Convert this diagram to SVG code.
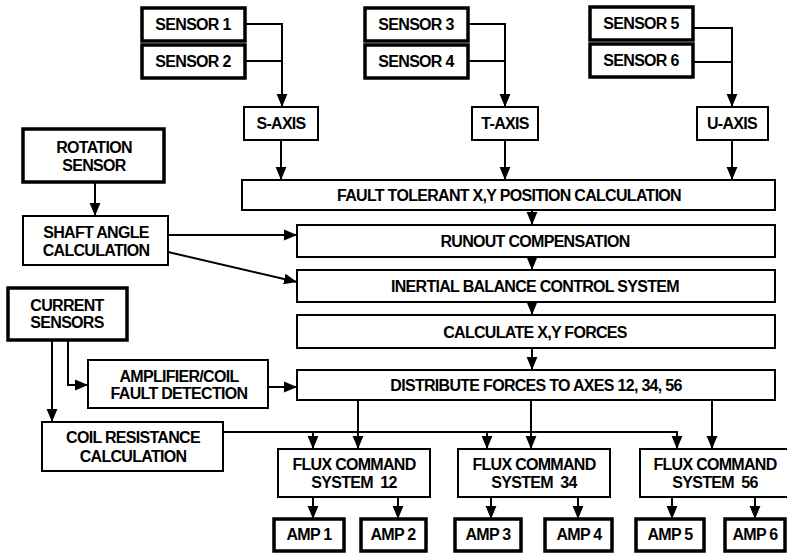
<svg xmlns="http://www.w3.org/2000/svg" width="787" height="553" viewBox="0 0 787 553">
<style>
.b{fill:#fff;stroke:#000;stroke-width:2}
.k{fill:#fff;stroke:#000;stroke-width:3.5}
.t{font-family:"Liberation Sans",Arial,sans-serif;font-weight:bold;font-size:16px;letter-spacing:-0.7px;text-anchor:middle;fill:#000}
.c{fill:none;stroke:#000;stroke-width:2}
.a{marker-end:url(#ah)}
</style>
<defs>
<marker id="ah" viewBox="0 0 12 10" markerWidth="13" markerHeight="12" refX="12" refY="5" orient="auto" markerUnits="userSpaceOnUse">
<path d="M0,0 L12,5 L0,10 z" fill="#000"/>
</marker>
</defs>
<rect width="787" height="553" fill="#fff"/>
<g id="connectors">
<path class="c" d="M245,24 H282 V61"/>
<path class="c a" d="M245,61 H282 V107"/>
<path class="c" d="M468,24 H505 V61"/>
<path class="c a" d="M468,61 H505 V107"/>
<path class="c" d="M693,28 H732 V62"/>
<path class="c a" d="M693,62 H732 V107"/>
<path class="c a" d="M281,140 V180"/>
<path class="c a" d="M505,140 V180"/>
<path class="c a" d="M732,140 V180"/>
<path class="c a" d="M532,210 V225"/>
<path class="c a" d="M532,257 V270"/>
<path class="c a" d="M532,302 V315"/>
<path class="c a" d="M532,348 V370"/>
<path class="c a" d="M95,182 V216"/>
<path class="c a" d="M168,235 H297"/>
<path class="c a" d="M168,252 L297,282"/>
<path class="c a" d="M52,340 V422"/>
<path class="c a" d="M68,340 V385 H88"/>
<path class="c a" d="M268,387 H297"/>
<path class="c a" d="M223,432 H677 V449"/>
<path class="c a" d="M313,432 V449"/>
<path class="c a" d="M487,432 V449"/>
<path class="c a" d="M358,400 V449"/>
<path class="c a" d="M531,400 V449"/>
<path class="c a" d="M712,400 V449"/>
<path class="c a" d="M313,497 V519"/>
<path class="c a" d="M398,497 V519"/>
<path class="c a" d="M491,497 V519"/>
<path class="c a" d="M578,497 V519"/>
<path class="c a" d="M672,497 V519"/>
<path class="c a" d="M755,497 V519"/>
</g>
<g id="sensor1"><rect class="k" x="142" y="8" width="103" height="33"/><text class="t" x="193" y="30">SENSOR 1</text></g>
<g id="sensor2"><rect class="k" x="142" y="45" width="103" height="33"/><text class="t" x="193" y="67">SENSOR 2</text></g>
<g id="sensor3"><rect class="k" x="365" y="8" width="103" height="33"/><text class="t" x="416" y="30">SENSOR 3</text></g>
<g id="sensor4"><rect class="k" x="365" y="45" width="103" height="33"/><text class="t" x="416" y="67">SENSOR 4</text></g>
<g id="sensor5"><rect class="k" x="590" y="7" width="103" height="33"/><text class="t" x="641" y="29">SENSOR 5</text></g>
<g id="sensor6"><rect class="k" x="590" y="44" width="103" height="33"/><text class="t" x="641" y="66">SENSOR 6</text></g>
<g id="s-axis"><rect class="b" x="244" y="107" width="74" height="33"/><text class="t" x="281" y="129">S-AXIS</text></g>
<g id="t-axis"><rect class="b" x="472" y="107" width="66" height="33"/><text class="t" x="505" y="129">T-AXIS</text></g>
<g id="u-axis"><rect class="b" x="697" y="107" width="71" height="33"/><text class="t" x="732" y="129">U-AXIS</text></g>
<g id="fault-tolerant"><rect class="b" x="242" y="180" width="533" height="30"/><text class="t" x="509" y="201">FAULT TOLERANT X,Y POSITION CALCULATION</text></g>
<g id="runout"><rect class="b" x="297" y="225" width="478" height="32"/><text class="t" x="535" y="247">RUNOUT COMPENSATION</text></g>
<g id="inertial"><rect class="b" x="297" y="270" width="478" height="32"/><text class="t" x="535" y="292">INERTIAL BALANCE CONTROL SYSTEM</text></g>
<g id="calc-forces"><rect class="b" x="297" y="315" width="478" height="33"/><text class="t" x="535" y="338">CALCULATE X,Y FORCES</text></g>
<g id="distribute"><rect class="b" x="297" y="370" width="478" height="30"/><text class="t" x="536" y="391">DISTRIBUTE FORCES TO AXES 12, 34, 56</text></g>
<g id="rotation-sensor"><rect class="k" x="23" y="129" width="141" height="53"/><text class="t" x="94" y="153">ROTATION</text><text class="t" x="94" y="171">SENSOR</text></g>
<g id="shaft-angle"><rect class="b" x="23" y="216" width="145" height="49"/><text class="t" x="96" y="238">SHAFT ANGLE</text><text class="t" x="96" y="256">CALCULATION</text></g>
<g id="current-sensors"><rect class="k" x="8" y="288" width="119" height="52"/><text class="t" x="67" y="311">CURRENT</text><text class="t" x="67" y="328">SENSORS</text></g>
<g id="amp-coil-fault"><rect class="b" x="88" y="360" width="180" height="48"/><text class="t" x="179" y="382">AMPLIFIER/COIL</text><text class="t" x="179" y="399">FAULT DETECTION</text></g>
<g id="coil-resistance"><rect class="b" x="42" y="422" width="181" height="49"/><text class="t" x="133" y="443">COIL RESISTANCE</text><text class="t" x="133" y="462">CALCULATION</text></g>
<g id="flux12"><rect class="b" x="278" y="449" width="152" height="48"/><text class="t" x="354" y="470">FLUX COMMAND</text><text class="t" x="354" y="488" xml:space="preserve">SYSTEM  12</text></g>
<g id="flux34"><rect class="b" x="458" y="449" width="152" height="48"/><text class="t" x="534" y="470">FLUX COMMAND</text><text class="t" x="534" y="488" xml:space="preserve">SYSTEM  34</text></g>
<g id="flux56"><rect class="b" x="640" y="449" width="155" height="48"/><text class="t" x="715" y="470">FLUX COMMAND</text><text class="t" x="715" y="488" xml:space="preserve">SYSTEM  56</text></g>
<g id="amp1"><rect class="k" x="274" y="519" width="70" height="32"/><text class="t" x="309" y="540">AMP 1</text></g>
<g id="amp2"><rect class="k" x="361" y="519" width="65" height="32"/><text class="t" x="393" y="540">AMP 2</text></g>
<g id="amp3"><rect class="k" x="455" y="519" width="66" height="32"/><text class="t" x="488" y="540">AMP 3</text></g>
<g id="amp4"><rect class="k" x="545" y="519" width="67" height="32"/><text class="t" x="579" y="540">AMP 4</text></g>
<g id="amp5"><rect class="k" x="636" y="519" width="68" height="32"/><text class="t" x="670" y="540">AMP 5</text></g>
<g id="amp6"><rect class="k" x="725" y="519" width="60" height="32"/><text class="t" x="755" y="540">AMP 6</text></g>
</svg>
